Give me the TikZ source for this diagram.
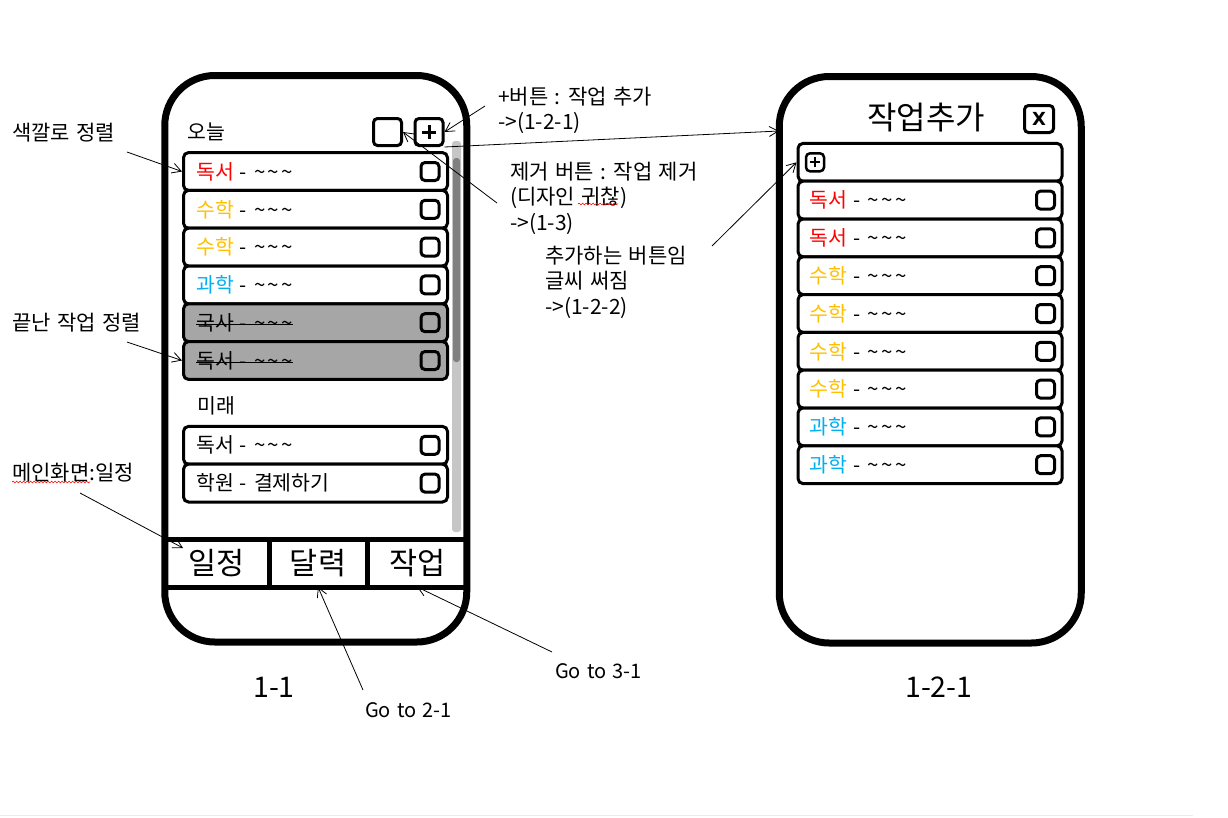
\documentclass[tikz,border=0pt]{standalone}
\usepackage{fontspec}
\setmainfont{Noto Sans CJK KR}[WordSpace=1.35]
\newfontfamily\symfont{DejaVu Sans}
\usetikzlibrary{positioning,arrows.meta,decorations.pathmorphing}

\definecolor{subjred}{HTML}{FF0000}
\definecolor{subjorange}{HTML}{FFC000}
\definecolor{subjblue}{HTML}{00B0F0}
\definecolor{donegray}{HTML}{A6A6A6}
\definecolor{pagerule}{HTML}{E3EEF9}
\newcommand{\tld}{\textasciitilde\hspace{2.5pt}\textasciitilde\hspace{2.5pt}\textasciitilde}
\newcommand{\dsh}{\hspace{6pt}-\hspace{7pt}}

\tikzset{
  phone/.style={draw, line width=7pt, rounded corners=50pt, minimum width=302pt, minimum height=566.5pt, inner sep=0pt},
  taskrow/.style={draw, line width=3pt, rounded corners=5pt, minimum width=264pt, minimum height=37.8pt, inner sep=0pt, fill=white},
  donerow/.style={taskrow, fill=donegray},
  chk/.style={draw, line width=3pt, rounded corners=4pt, minimum size=18pt, inner sep=0pt},
  rowtext/.style={anchor=west, inner sep=0pt, font=\fontsize{20.5}{24}\selectfont},
  tab/.style={draw, line width=5pt, minimum height=47.5pt, inner sep=0pt, outer sep=0pt, font=\fontsize{30.5}{34}\selectfont},
  note/.style={anchor=north west, inner sep=0pt, align=left, font=\fontsize{21}{25.3}\selectfont},
  golabel/.style={anchor=base west, inner sep=0pt, font=\fontsize{20}{24}\selectfont},
  screenid/.style={anchor=base west, inner sep=0pt, font=\fontsize{28.5}{32}\selectfont},
  pointer/.style={-{Straight Barb[length=9pt,width=10pt]}, line width=0.8pt},
  spell/.style={draw=red, line width=0.6pt, decorate, decoration={snake, amplitude=0.9pt, segment length=3.5pt}},
}

\begin{document}
\begin{tikzpicture}[x=1pt,y=-1pt]
\useasboundingbox (0,0) rectangle (1228,817);

% ---- screen 1-1 ----
\node[phone] (ph1) at (315.75,358.75) {};

\node[rowtext] (today) at (187,132) {오늘};
\node[chk, minimum width=28pt, minimum height=27pt] (del) at (387.5,132) {};
\node[chk, minimum width=28pt, minimum height=27pt] (plus) at (429,132) {};
\draw[line width=3pt] ([xshift=-7pt]plus.center) -- ([xshift=7pt]plus.center)
                      ([yshift=-7pt]plus.center) -- ([yshift=7pt]plus.center);

% scroll bar
\fill[gray!45, rounded corners=3pt] (452,141) rectangle (461,532);
\fill[gray, rounded corners=3pt] (453,158) rectangle (460,362);

\foreach \n/\y/\subj/\col in {1/171.5/독서/subjred, 2/209.3/수학/subjorange, 3/247.1/수학/subjorange, 4/284.9/과학/subjblue}{
    \node[taskrow] (a\n) at (315.5,\y) {};
    \node[rowtext] (ta\n) at ([xshift=14pt]a\n.west) {\textcolor{\col}{\subj}\dsh\tld};
    \node[chk] (ca\n) at ([xshift=-19pt]a\n.east) {};
}
% finished tasks
\foreach \n/\y/\subj in {5/322.7/국사, 6/360.5/독서}{
    \node[donerow] (a\n) at (315.5,\y) {};
    \node[rowtext] (ta\n) at ([xshift=14pt]a\n.west) {\subj\dsh\tld};
    \draw[line width=1pt] ([yshift=-2pt]ta\n.west) -- ([yshift=-2pt]ta\n.east);
    \node[chk] (ca\n) at ([xshift=-19pt]a\n.east) {};
}

\node[rowtext] (future) at (197,405.5) {미래};
\foreach \n/\y/\txt in {1/445.3/독서\dsh\tld, 2/483.1/학원\dsh 결제하기}{
    \node[taskrow] (f\n) at (315.5,\y) {};
    \node[rowtext] (tf\n) at ([xshift=14pt]f\n.west) {\txt};
    \node[chk] (cf\n) at ([xshift=-19pt]f\n.east) {};
}

% tab bar
\node[tab, minimum width=105pt] (tab1) at (216.5,563.25) {일정};
\node[tab, minimum width=98pt, right=0pt of tab1] (tab2) {달력};
\node[tab, minimum width=100.5pt, right=0pt of tab2] (tab3) {작업};

\node[screenid] (id1) at (253,697) {1-1};

% ---- screen 1-2-1 ----
\node[phone] (ph2) at (930.25,359.75) {};
\node[font=\fontsize{32}{36}\selectfont, inner sep=0pt] (title) at (926,118) {작업추가};
\node[chk, minimum width=29pt, minimum height=27pt] (close) at (1039,119) {\symfont\bfseries\fontsize{18}{20}\selectfont X};

\node[taskrow] (addrow) at (930,162.3) {};
\node[chk, line width=2.5pt, minimum size=18pt] (addbtn) at ([xshift=18.5pt]addrow.west) {};
\draw[line width=2pt] ([xshift=-5pt]addbtn.center) -- ([xshift=5pt]addbtn.center)
                      ([yshift=-5pt]addbtn.center) -- ([yshift=5pt]addbtn.center);

\foreach \n/\y/\subj/\col in {1/200.1/독서/subjred, 2/237.9/독서/subjred, 3/275.7/수학/subjorange, 4/313.5/수학/subjorange,
                              5/351.3/수학/subjorange, 6/389.1/수학/subjorange, 7/426.9/과학/subjblue, 8/464.7/과학/subjblue}{
    \node[taskrow] (b\n) at (930,\y) {};
    \node[rowtext] (tb\n) at ([xshift=13pt]b\n.west) {\textcolor{\col}{\subj}\dsh\tld};
    \node[chk] (cb\n) at ([xshift=-18pt]b\n.east) {};
}

\node[screenid] (id2) at (905,697) {1-2-1};

% ---- notes ----
\node[note] (sortcolor) at (12,123) {색깔로 정렬};
\node[note] (sortdone) at (12,313) {끝난 작업 정렬};
\node[note] (mainscr) at (12,463) {메인화면:일정};
\node[note] (plusnote) at (498,87) {+버튼 : 작업 추가\\->(1-2-1)};
\node[note] (delnote) at (510,162) {제거 버튼 : 작업 제거\\(디자인 귀찮)\\->(1-3)};
\node[note] (addnote) at (545,246) {추가하는 버튼임\\글씨 써짐\\->(1-2-2)};
\node[golabel] (go2) at (365,717) {Go to 2-1};
\node[golabel] (go3) at (555,678) {Go to 3-1};

% spell check marks
\draw[spell] (12,482) -- (90,482);
\draw[spell] (578,204) -- (618,204);

\coordinate (s1) at (127,152);
\coordinate (s2) at (127,342);
\coordinate (s3) at (80,493);
\coordinate (s4) at (485,106);
\coordinate (s5) at (497,203);
\coordinate (s7) at (712,246);
\coordinate (s8) at (363,690);
\coordinate (s9) at (552,652);
\coordinate (t3) at (183,548);
\coordinate (t6) at (779,131);

\draw[pointer] (s1) -- (a1.west);
\draw[pointer] (s2) -- (a6.west);
\draw[pointer] (s3) -- (t3);
\draw[pointer] (s4) -- (plus.east);
\draw[pointer] (s5) -- (del.east);
\draw[pointer] (plus.south east) -- (t6);
\draw[pointer] (s7) -- (addrow.west);
\draw[pointer] (s8) -- (tab2.south);
\draw[pointer] (s9) -- (tab3.south);

\draw[pagerule, line width=1pt] (0,815.5) -- (1193,815.5);

\end{tikzpicture}
\end{document}
